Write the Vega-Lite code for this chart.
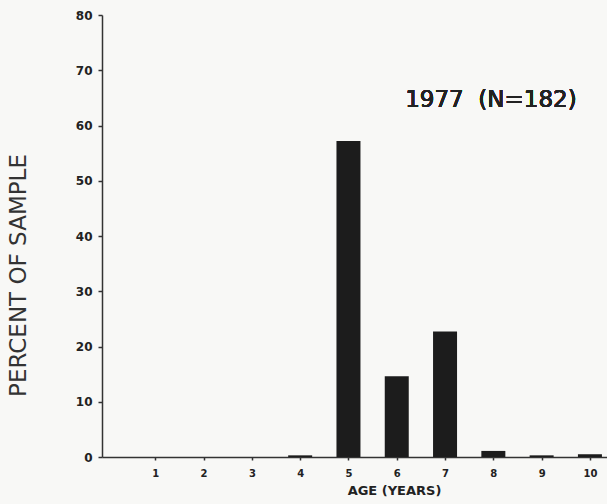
{
  "$schema": "https://vega.github.io/schema/vega-lite/v6.json",
  "width": 505,
  "height": 442,
  "autosize": "none",
  "padding": {"left": 102, "top": 15, "right": 0, "bottom": 47},
  "background": "#f8f8f6",
  "config": {"view": {"stroke": null}, "font": "DejaVu Sans"},
  "data": {"values": [
    {"age": 1, "percent": 0},
    {"age": 2, "percent": 0},
    {"age": 3, "percent": 0},
    {"age": 4, "percent": 0.3},
    {"age": 5, "percent": 57.2},
    {"age": 6, "percent": 14.6},
    {"age": 7, "percent": 22.7},
    {"age": 8, "percent": 1.1},
    {"age": 9, "percent": 0.3},
    {"age": 10, "percent": 0.5}
  ]},
  "layer": [
    {
      "mark": {"type": "bar", "size": 24, "color": "#1c1c1c"},
      "encoding": {
        "x": {"field": "age", "type": "quantitative",
          "scale": {"domain": [0, 10.25], "nice": false, "zero": true},
          "axis": {"values": [1,2,3,4,5,6,7,8,9,10], "title": "AGE (YEARS)", "grid": false,
            "domainColor": "#333", "domainWidth": 1.5, "tickColor": "#333", "tickSize": 3, "tickWidth": 1.5,
            "labelFontSize": 10, "labelFontWeight": "bold", "labelColor": "#222", "labelPadding": 8,
            "titleFontSize": 13, "titleFontWeight": "bold", "titleColor": "#222",
            "titleX": 292, "titleY": 33, "titleAlign": "center", "titleBaseline": "middle"}},
        "y": {"field": "percent", "type": "quantitative",
          "scale": {"domain": [0, 80], "nice": false},
          "axis": {"values": [0,10,20,30,40,50,60,70,80], "title": "PERCENT OF SAMPLE", "grid": false,
            "domainColor": "#333", "domainWidth": 1.5, "tickColor": "#333", "tickSize": 4, "tickWidth": 1.5,
            "labelFontSize": 12, "labelFontWeight": "bold", "labelColor": "#222", "labelPadding": 6,
            "titleFontSize": 23, "titleFontWeight": "normal", "titleColor": "#333",
            "titleX": -84, "titleY": 260, "titleAngle": -90, "titleAlign": "center", "titleBaseline": "middle"}}
      }
    },
    {
      "mark": {"type": "text", "text": "1977\u00a0\u00a0(N=182)", "fontSize": 23, "fontWeight": "normal", "font": "DejaVu Sans", "color": "#222", "align": "center", "baseline": "middle"},
      "encoding": {
        "x": {"datum": 7.95, "type": "quantitative"},
        "y": {"datum": 64.6, "type": "quantitative"}
      }
    }
  ]
}
